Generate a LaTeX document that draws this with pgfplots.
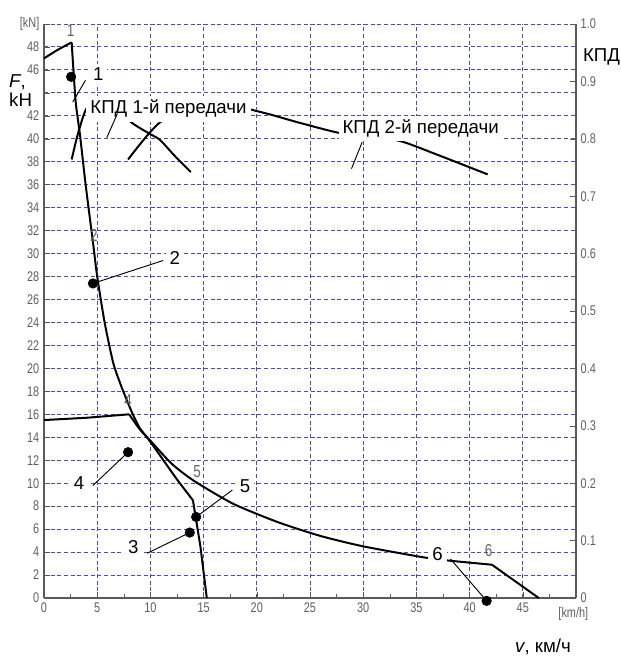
\documentclass[border=0pt]{standalone}
\usepackage{pgfplots}
\pgfplotsset{compat=1.18}
\usepackage{fontspec}
\setmainfont{Liberation Sans}
\newfontfamily\narrowfont[FakeStretch=0.78]{Liberation Sans}
\definecolor{gridblue}{RGB}{75,75,180}
\definecolor{ticktext}{RGB}{95,95,95}
\definecolor{axisgray}{RGB}{90,90,90}

\pgfplotsset{
  base/.style={
    scale only axis, width=399pt, height=430.5pt,
    xmin=0, xmax=50, clip=false,
    axis line style={axisgray, line width=1pt},
    tick style={axisgray, thin},
    tick label style={font=\narrowfont\fontsize{10.5}{12}\selectfont, text=ticktext},
  },
}
\tikzset{
  curve/.style={black, line width=1.5pt},
  lead/.style={black, line width=0.7pt},
  lbl/.style={font=\fontsize{14}{16}\selectfont, fill=white, inner sep=3pt},
  orig/.style={font=\narrowfont\fontsize{13}{14}\selectfont, text=black!60},
}

\begin{document}
\begin{tikzpicture}
\useasboundingbox (-33pt,-44.25pt) rectangle (432.75pt,448.5pt);

\begin{axis}[base,
  ymin=0, ymax=50,
  axis x line*=bottom, axis y line*=left,
  xtick={0,5,...,50},
  xticklabels={0,5,10,15,20,25,30,35,40,45,{}},
  minor x tick num=1,
  ytick={0,2,...,50},
  yticklabels={0,2,4,6,8,10,12,14,16,18,20,22,24,26,28,30,32,34,36,38,40,42,{},46,48,{[kN]}},
  grid=major,
  major grid style={gridblue, dashed, dash pattern=on 3pt off 2pt, line width=0.7pt},
]

% 1st gear: traction force
\addplot[curve, smooth] coordinates {(0,47) (1.2,47.7) (2.6,48.4)};
\addplot[curve, smooth, tension=0.4] coordinates {
  (2.6,48.4) (2.8,45.5) (3.0,43) (3.4,40.2) (3.9,36.1) (4.6,31) (5.0,28)
  (5.7,24) (6.5,20.5) (7.2,18.6) (7.8,17.2) (8.3,16.1) (9,14.8) (10,13.6)
  (11.6,11.5) (12.6,10.2) (13.6,9)};
\addplot[curve] coordinates {(13.6,9) (14,8.5) (14.7,4.5) (15.3,0)};

% 2nd gear: traction force
\addplot[curve] coordinates {(0,15.5) (4,15.7) (8,16)};
\addplot[curve, smooth, tension=0.4] coordinates {
  (8,16) (9,14.7) (10,13.7) (12,11.7) (14.1,10.2) (17.8,8.2) (22,6.6)
  (26,5.4) (30,4.5) (35.3,3.6) (37.6,3.3) (42.1,2.9)};
\addplot[curve] coordinates {(42.1,2.9) (46.5,0)};

% efficiency curves (scaled to the kN axis)
\addplot[curve, smooth, tension=0.5] coordinates {
  (2.6,38.2) (3.3,40.8) (4.2,42.9) (6,43) (8.4,41.3) (10,40.4)
  (10.9,39.9) (12.3,38.5) (13.8,37.1)};
\addplot[curve, smooth, tension=0.5] coordinates {
  (7.9,38.2) (9,39.5) (10,40.6) (11,41.5) (13,42.6) (16,43.2) (20.5,42.3)
  (24,41.4) (27.8,40.5) (31,40.1) (33.5,39.8) (37,38.6) (41.7,36.9)};

% numbers of the original chart
\node[orig] at (axis cs:2.5,49.4) {1};
\node[orig] at (axis cs:4.7,31.6) {2};
\node[orig] at (axis cs:7.9,17.2) {4};
\node[orig] at (axis cs:14.4,11) {5};
\node[orig] at (axis cs:41.8,4.1) {6};

% labels with white boxes
\node[lbl] at (axis cs:11.7,42.6) {КПД 1-й передачи};
\node[lbl] at (axis cs:35.4,40.9) {КПД 2-й передачи};
\node[lbl, align=left, inner sep=1pt, font=\fontsize{14}{14.5}\selectfont] at (axis cs:-2.2,44.2) {\textit{F},\\kH};
\node[lbl] at (axis cs:5.1,45.6) {1};
\node[lbl] at (axis cs:12.3,29.6) {2};
\node[lbl] at (axis cs:3.3,10.0) {4};
\node[lbl] at (axis cs:18.9,9.7) {5};
\node[lbl] at (axis cs:8.4,4.4) {3};
\node[lbl] at (axis cs:37.0,3.8) {6};

% leader lines
\draw[lead] (axis cs:2.7,43.2) -- (axis cs:3.9,45.1);
\draw[lead] (axis cs:4.6,27.4) -- (axis cs:11.2,29.4);
\draw[lead] (axis cs:4.6,9.8) -- (axis cs:7.9,12.7);
\draw[lead] (axis cs:14.3,7.06) -- (axis cs:17.7,9.4);
\draw[lead] (axis cs:9.7,3.9) -- (axis cs:13.7,5.7);
\draw[lead] (axis cs:38.2,3.4) -- (axis cs:41.6,-0.25);
\draw[lead] (axis cs:5.9,40.1) -- (axis cs:6.9,42.2);
\draw[lead] (axis cs:28.9,37.4) -- (axis cs:29.9,39.7);

% points
\addplot[only marks, mark=*, mark size=3.6pt, black] coordinates {
  (2.55,45.4) (4.6,27.4) (7.9,12.7) (14.3,7.06) (13.7,5.7) (41.6,-0.25)};

% axis titles
\node[font=\narrowfont\fontsize{10.5}{12}\selectfont, text=ticktext, anchor=north, inner sep=0pt]
  at ([xshift=-2pt, yshift=-7pt]axis cs:50,0) {[km/h]};
\node[font=\fontsize{14}{16}\selectfont] at (axis cs:52.4,47.1) {КПД};
\node[font=\fontsize{14}{16}\selectfont] at (axis cs:46.9,-4.3) {\textit{v}, км/ч};
\end{axis}

\begin{axis}[base,
  ymin=0, ymax=1,
  axis x line=none, axis y line*=right,
  ytick={0,0.1,...,1.0},
  yticklabels={0,0.1,0.2,0.3,0.4,0.5,0.6,0.7,0.8,0.9,1.0},
]
\end{axis}
\end{tikzpicture}
\end{document}
